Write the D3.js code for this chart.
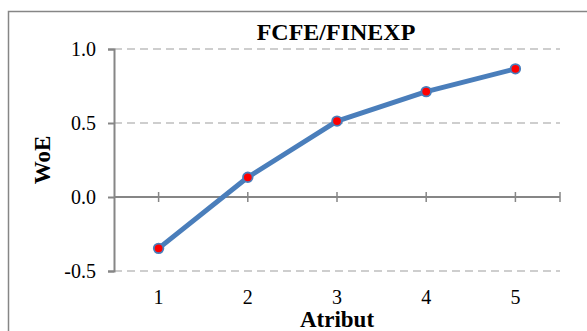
<!DOCTYPE html>
<html><head><meta charset="utf-8">
<script src="https://cdn.jsdelivr.net/npm/d3@7"></script>
<style>html,body{margin:0;padding:0;background:#fff;}svg{display:block;}</style>
</head><body>
<svg id="c" width="587" height="331"></svg>
<script>
const categories = [1, 2, 3, 4, 5];
const woe = [-0.347, 0.133, 0.513, 0.712, 0.866];
const yTicks = [-0.5, 0.0, 0.5, 1.0];
const gridValues = [-0.5, 0.5, 1.0];
const title = "FCFE/FINEXP";
const xTitle = "Atribut";
const yTitle = "WoE";

const svg = d3.select("#c");
const font = "'Liberation Serif','Times New Roman',serif";
const axisColor = "#868686";

svg.append("rect").attr("x", 8.5).attr("y", 11.5).attr("width", 620).attr("height", 400)
  .attr("fill", "none").attr("stroke", axisColor).attr("stroke-width", 1.5);

const x = d3.scalePoint().domain(categories).range([114, 560]).padding(0.5);
const y = d3.scaleLinear().domain([-0.5, 1.0]).range([271, 49]);

// gridlines
svg.append("g").selectAll("line").data(gridValues).join("line")
  .attr("x1", 114).attr("x2", 560)
  .attr("y1", d => y(d)).attr("y2", d => y(d))
  .attr("stroke", "#bfbfbf").attr("stroke-width", 1.5).attr("stroke-dasharray", "8,5");

// y axis
const yAxis = d3.axisLeft(y).tickValues(yTicks).tickFormat(d3.format(".1f")).tickSize(6).tickPadding(12);
const gy = svg.append("g").attr("transform", "translate(114,0)").call(yAxis);
gy.select(".domain").attr("stroke", axisColor).attr("stroke-width", 2);
gy.selectAll(".tick line").attr("stroke", axisColor).attr("stroke-width", 2);
gy.selectAll(".tick text").attr("font-family", font).attr("font-size", 20).attr("fill", "#000")
  .text(d => d < 0 ? "-" + Math.abs(d).toFixed(1) : d.toFixed(1));

// x axis
const gx = svg.append("g").attr("transform", `translate(0,${y(0)})`);
gx.append("line").attr("x1", 114).attr("x2", 560).attr("stroke", axisColor).attr("stroke-width", 2);
gx.selectAll("line.t").data(categories.map(c => x(c)).concat([560])).join("line").attr("class", "t")
  .attr("x1", d => d).attr("x2", d => d).attr("y1", -5).attr("y2", 5)
  .attr("stroke", axisColor).attr("stroke-width", 1.5);
svg.append("g").selectAll("text").data(categories).join("text")
  .attr("x", d => x(d)).attr("y", 304).attr("text-anchor", "middle")
  .attr("font-family", font).attr("font-size", 20).attr("fill", "#000").text(d => d);

// line
const data = categories.map((c, i) => ({c, v: woe[i]}));
svg.append("path").datum(data)
  .attr("d", d3.line().x(d => x(d.c)).y(d => y(d.v)))
  .attr("fill", "none").attr("stroke", "#4a7ebb").attr("stroke-width", 5).attr("stroke-linejoin", "round");
svg.append("g").selectAll("circle").data(data).join("circle")
  .attr("cx", d => x(d.c)).attr("cy", d => y(d.v)).attr("r", 4.8)
  .attr("fill", "#ff0000").attr("stroke", "#4a7ebb").attr("stroke-width", 1.8);

// titles
svg.append("text").attr("x", 336).attr("y", 39.5).attr("text-anchor", "middle")
  .attr("font-family", font).attr("font-weight", "bold").attr("font-size", 24).text(title);
svg.append("text").attr("x", 337).attr("y", 327).attr("text-anchor", "middle")
  .attr("font-family", font).attr("font-weight", "bold").attr("font-size", 23).text(xTitle);
svg.append("text").attr("transform", "translate(50,160) rotate(-90)").attr("text-anchor", "middle")
  .attr("font-family", font).attr("font-weight", "bold").attr("font-size", 23).text(yTitle);
</script>
</body></html>
